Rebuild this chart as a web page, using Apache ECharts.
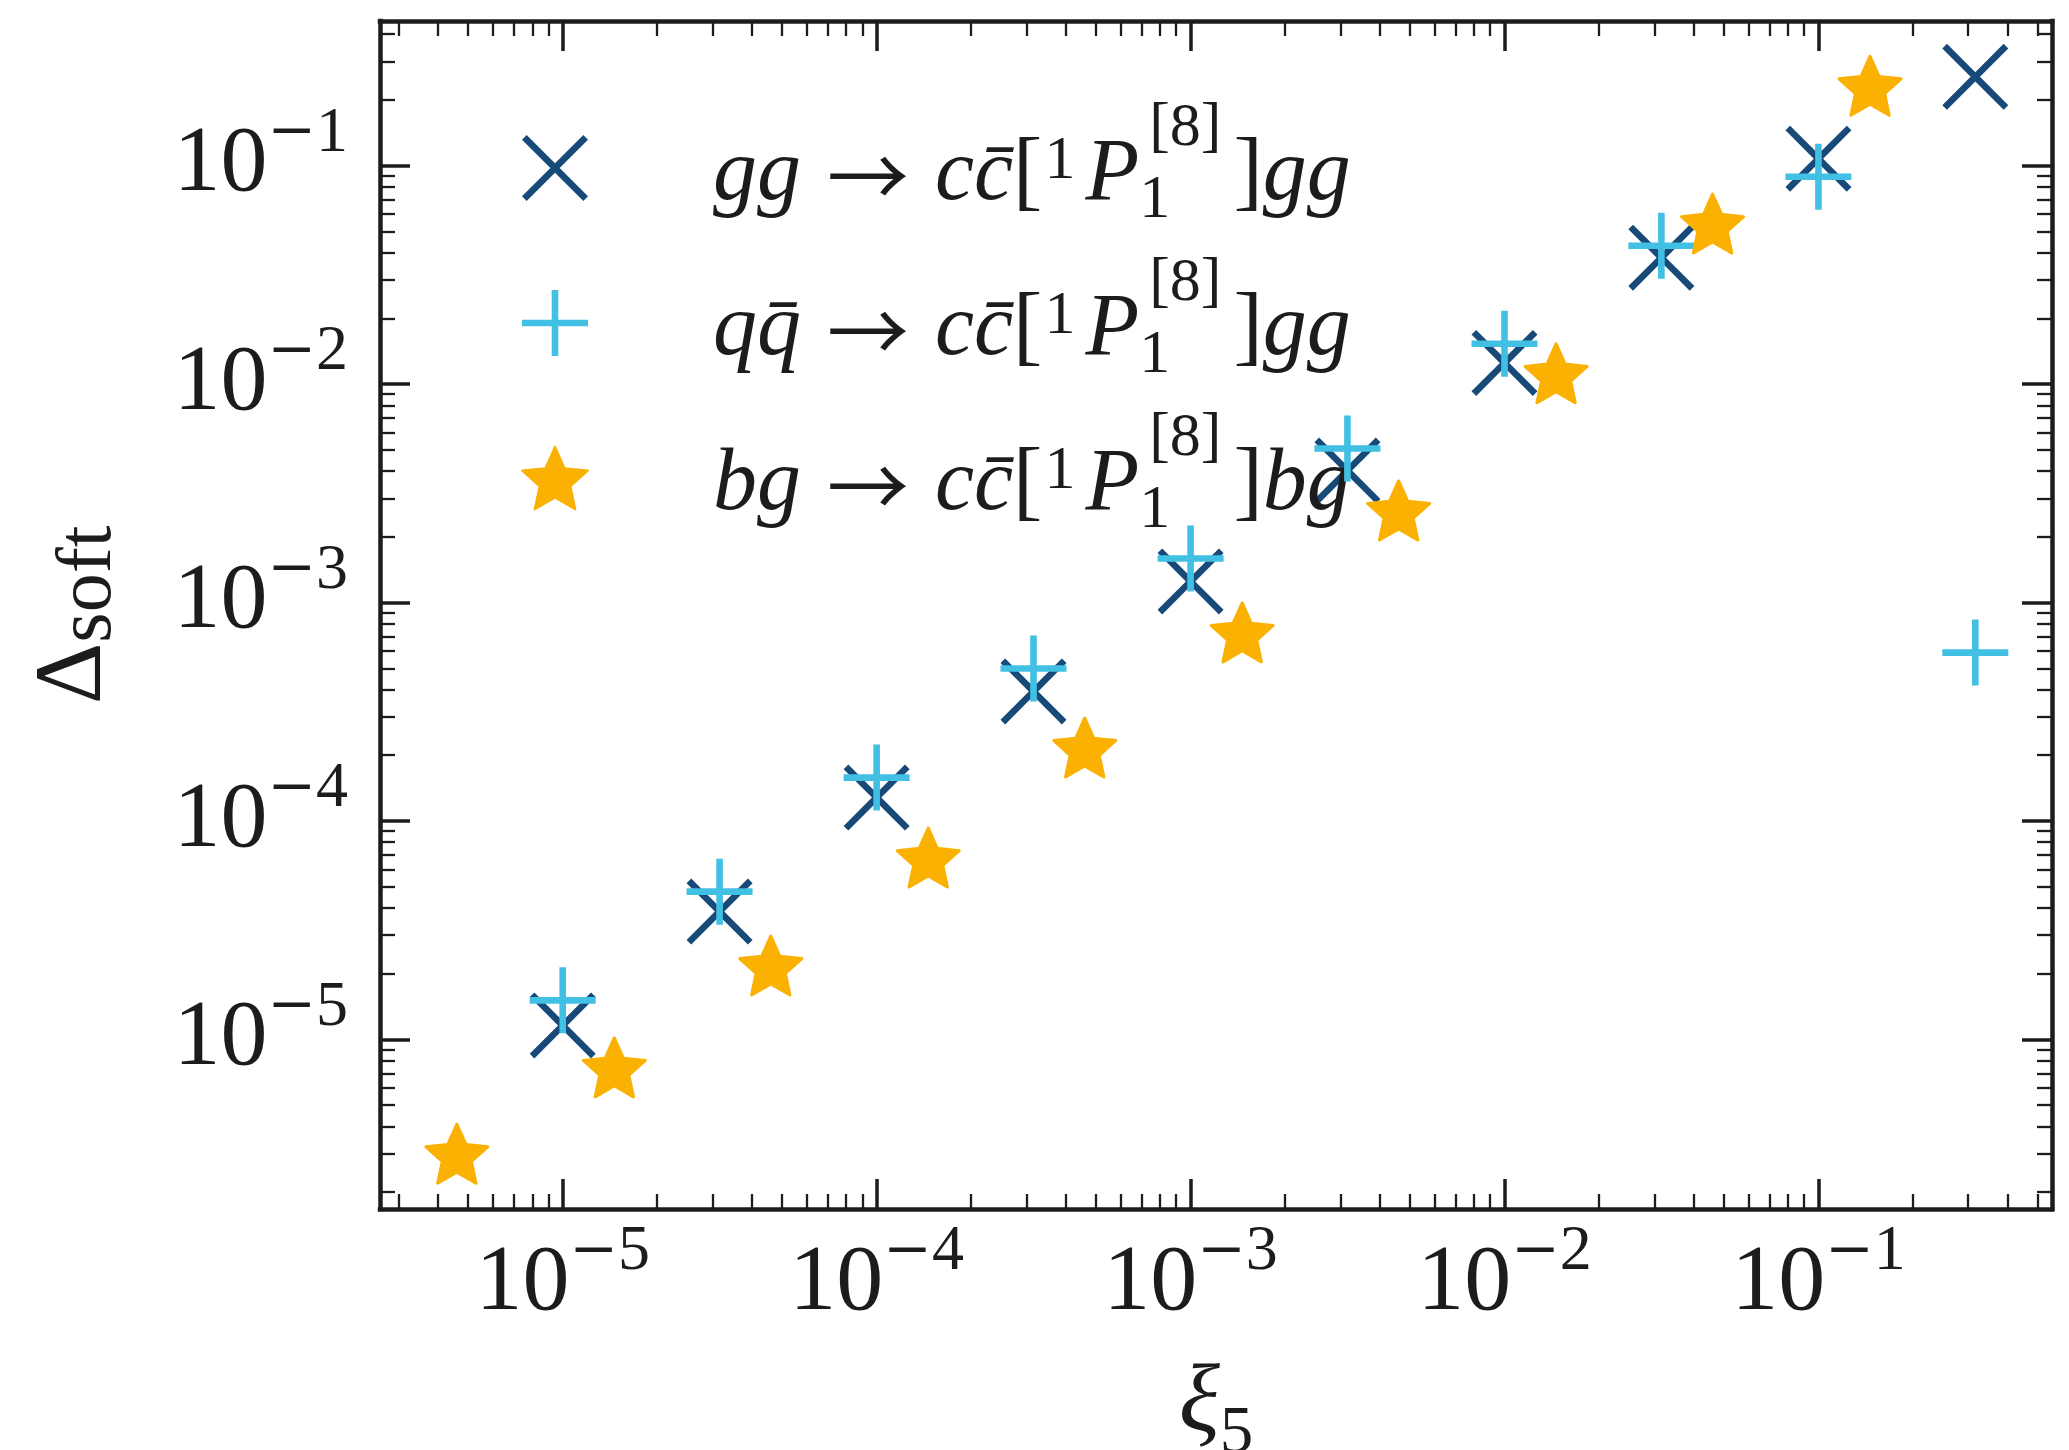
<!DOCTYPE html>
<html>
<head>
<meta charset="utf-8">
<script src="https://cdn.jsdelivr.net/npm/echarts@6/dist/echarts.min.js"></script>
<style>
html,body{margin:0;padding:0;background:#ffffff;}
#chart{width:2069px;height:1450px;}
</style>
</head>
<body>
<div id="chart"></div>
<script>
// ---------------- data ----------------
const seriesNames = ['gg', 'qq', 'bg'];

const xGG = [1e-5, 3.16e-5, 1e-4, 3.16e-4, 1e-3, 3.16e-3, 1e-2, 3.16e-2, 1e-1, 3.16e-1];
const yGG = [1.16e-5, 3.85e-5, 1.28e-4, 3.92e-4, 1.25e-3, 4.02e-3, 1.25e-2, 3.79e-2, 1.076e-1, 2.55e-1];

const xQQ = [1e-5, 3.16e-5, 1e-4, 3.16e-4, 1e-3, 3.16e-3, 1e-2, 3.16e-2, 1e-1, 3.16e-1];
const yQQ = [1.51e-5, 4.75e-5, 1.58e-4, 4.99e-4, 1.59e-3, 5.07e-3, 1.53e-2, 4.3e-2, 8.9e-2, 5.9e-4];

const xBG = [4.6e-6, 1.46e-5, 4.6e-5, 1.46e-4, 4.6e-4, 1.46e-3, 4.6e-3, 1.46e-2, 4.6e-2, 1.46e-1];
const yBG = [3.0e-6, 7.45e-6, 2.18e-5, 6.8e-5, 2.17e-4, 7.3e-4, 2.64e-3, 1.12e-2, 5.43e-2, 2.32e-1];

const xMajorTicks = [1e-5, 1e-4, 1e-3, 1e-2, 1e-1];
const xTickExponents = [-5, -4, -3, -2, -1];
const yMajorTicks = [1e-5, 1e-4, 1e-3, 1e-2, 1e-1];
const yTickExponents = [-5, -4, -3, -2, -1];

// ---------------- styling ----------------
const X_MIN = Math.pow(10, -5.582), X_MAX = Math.pow(10, -0.256);
const Y_MIN = Math.pow(10, -5.776), Y_MAX = Math.pow(10, -0.338);

const C_GG = '#174a78', C_QQ = '#42c0e3', C_BG = '#fbb102';
const INK = '#1c1c1c';

const SYM_X = 'path://M0,7.07L7.07,0L50,42.93L92.93,0L100,7.07L57.07,50L100,92.93L92.93,100L50,57.07L7.07,100L0,92.93L42.93,50Z';
const SYM_PLUS = 'path://M45,0L55,0L55,45L100,45L100,55L55,55L55,100L45,100L45,55L0,55L0,45L45,45Z';
const SYM_STAR = 'path://M50,0L63.81,30.99L97.55,34.55L72.35,57.26L79.39,90.45L50,73.5L20.61,90.45L27.65,57.26L2.45,34.55L36.19,30.99Z';

function minorTicks(lo, hi) {
  const out = [];
  for (let e = Math.floor(Math.log10(lo)); e <= Math.ceil(Math.log10(hi)); e++) {
    for (let m = 2; m <= 9; m++) {
      const v = m * Math.pow(10, e);
      if (v >= lo && v <= hi) out.push(v);
    }
  }
  return out;
}
function nearestIdx(arr, v) {
  let best = 0, bd = Infinity;
  arr.forEach((a, i) => { const d = Math.abs(Math.log10(a) - Math.log10(v)); if (d < bd) { bd = d; best = i; } });
  return best;
}

const tickRich = {
  b: { fontFamily: 'Liberation Serif', fontSize: 94, lineHeight: 140, color: INK },
  m: { fontFamily: 'DejaVu Serif', fontSize: 58, height: 77, lineHeight: 77, verticalAlign: 'top', color: INK },
  s: { fontFamily: 'Liberation Serif', fontSize: 64, height: 77, lineHeight: 77, verticalAlign: 'top', color: INK }
};
function tickLabel(ticks, exps) {
  return function (v) {
    const e = exps[nearestIdx(ticks, v)];
    return '{b|10}{m|' + (e < 0 ? '\u2212' : '') + '}{s|' + Math.abs(e) + '}';
  };
}

const MAJ_LEN = 30, MIN_LEN = 15, MAJ_W = 3.5, MIN_W = 2.3, SPINE_W = 4.5;

function axisBase(min, max, position) {
  return {
    type: 'log', logBase: 10, min: min, max: max, position: position, gridIndex: 0,
    splitLine: { show: false }, minorTick: { show: false }, minorSplitLine: { show: false },
    axisLine: { show: false, onZero: false },
    axisTick: { show: false },
    axisLabel: { show: false },
    axisPointer: { show: false },
    silent: true
  };
}
function majorAxis(min, max, position, ticks, withLine) {
  const a = axisBase(min, max, position);
  a.axisLine = { show: withLine, onZero: false, lineStyle: { color: INK, width: SPINE_W, cap: 'square' } };
  a.axisTick = { show: true, inside: true, length: MAJ_LEN, customValues: ticks, lineStyle: { color: INK, width: MAJ_W } };
  return a;
}
function minorAxis(min, max, position) {
  const a = axisBase(min, max, position);
  a.axisTick = { show: true, inside: true, length: MIN_LEN, customValues: minorTicks(min, max), lineStyle: { color: INK, width: MIN_W } };
  return a;
}

const xMain = majorAxis(X_MIN, X_MAX, 'bottom', xMajorTicks, true);
xMain.axisLabel = { show: true, customValues: xMajorTicks, formatter: tickLabel(xMajorTicks, xTickExponents), rich: tickRich, margin: 5, hideOverlap: false };
xMain.name = '{x|\u03BE}{f|5}';
xMain.nameLocation = 'middle';
xMain.nameGap = 131;
xMain.nameMoveOverlap = false;
xMain.nameTextStyle = { rich: {
  x: { fontFamily: 'Liberation Serif', fontStyle: 'italic', fontSize: 96, lineHeight: 130, color: INK },
  f: { fontFamily: 'Liberation Serif', fontSize: 67, height: 72, lineHeight: 72, verticalAlign: 'bottom', color: INK }
} };

const yMain = majorAxis(Y_MIN, Y_MAX, 'left', yMajorTicks, true);
yMain.axisLabel = { show: true, customValues: yMajorTicks, formatter: tickLabel(yMajorTicks, yTickExponents), rich: tickRich, margin: 32, hideOverlap: false };
yMain.name = '{d|\u0394}{s|soft}';
yMain.nameLocation = 'middle';
yMain.nameGap = 240;
yMain.nameMoveOverlap = false;
yMain.nameTextStyle = { rich: {
  d: { fontFamily: 'Liberation Serif', fontSize: 96, lineHeight: 130, color: INK },
  s: { fontFamily: 'Liberation Serif', fontSize: 78, height: 100, lineHeight: 100, verticalAlign: 'bottom', color: INK }
} };

// legend text (math rendered as rich text); base glyphs sit slightly below the icon centre
const LF = 88, LS = 62, LL = 150, LB = 134;
const legendRich = {
  sp: { width: 120, fontSize: LF, lineHeight: LL },
  i: { fontFamily: 'Liberation Serif', fontStyle: 'italic', fontSize: LF, height: LB, lineHeight: LL, verticalAlign: 'bottom', color: INK },
  r: { fontFamily: 'Liberation Serif', fontSize: LF, height: LB, lineHeight: LL, verticalAlign: 'bottom', color: INK },
  ar: { fontFamily: 'Noto Sans CJK JP', fontSize: 82, height: LB, lineHeight: LL, verticalAlign: 'bottom', padding: [0, 26, 0, 26], color: INK },
  pre: { fontFamily: 'Liberation Serif', fontSize: LS, height: 138, lineHeight: 138, verticalAlign: 'top', padding: [0, 10, 0, 2], color: INK },
  sub: { fontFamily: 'Liberation Serif', fontSize: LS, height: 84, lineHeight: 84, verticalAlign: 'bottom', width: 0, color: INK },
  sup: { fontFamily: 'Liberation Serif', fontSize: LS, height: 72, lineHeight: 72, verticalAlign: 'top', padding: [0, 12, 0, 10], color: INK }
};
const legendLabels = [
  '{sp|\u00a0}{i|gg}{ar|\u2192}{i|cc\u0304}{r|[}{pre|1}{i|P}{sub|1}{sup|[8]}{r|]}{i|gg}',
  '{sp|\u00a0}{i|qq\u0304}{ar|\u2192}{i|cc\u0304}{r|[}{pre|1}{i|P}{sub|1}{sup|[8]}{r|]}{i|gg}',
  '{sp|\u00a0}{i|bg}{ar|\u2192}{i|cc\u0304}{r|[}{pre|1}{i|P}{sub|1}{sup|[8]}{r|]}{i|bg}'
];

function pairs(xs, ys) { return xs.map((x, i) => [x, ys[i]]); }

const option = {
  backgroundColor: '#ffffff',
  animation: false,
  grid: { left: 380, right: 17, top: 21, bottom: 241, containLabel: false, outerBoundsMode: 'none' },
  xAxis: [
    xMain,
    minorAxis(X_MIN, X_MAX, 'bottom'),
    majorAxis(X_MIN, X_MAX, 'top', xMajorTicks, true),
    minorAxis(X_MIN, X_MAX, 'top')
  ],
  yAxis: [
    yMain,
    minorAxis(Y_MIN, Y_MAX, 'left'),
    majorAxis(Y_MIN, Y_MAX, 'right', yMajorTicks, true),
    minorAxis(Y_MIN, Y_MAX, 'right')
  ],
  legend: {
    show: true, orient: 'vertical', left: 521, top: 93, padding: 0,
    itemWidth: 66, itemHeight: 66, itemGap: 5, selectedMode: false,
    data: seriesNames,
    formatter: function (name) { return legendLabels[seriesNames.indexOf(name)]; },
    textStyle: { color: INK, rich: legendRich }
  },
  series: [
    { type: 'scatter', name: seriesNames[0], xAxisIndex: 0, yAxisIndex: 0, data: pairs(xGG, yGG),
      symbol: SYM_X, symbolSize: 66, itemStyle: { color: C_GG, opacity: 1 }, z: 3, silent: true, emphasis: { disabled: true } },
    { type: 'scatter', name: seriesNames[1], xAxisIndex: 0, yAxisIndex: 0, data: pairs(xQQ, yQQ),
      symbol: SYM_PLUS, symbolSize: 66, itemStyle: { color: C_QQ, opacity: 1 }, z: 4, silent: true, emphasis: { disabled: true } },
    { type: 'scatter', name: seriesNames[2], xAxisIndex: 0, yAxisIndex: 0, data: pairs(xBG, yBG),
      symbol: SYM_STAR, symbolSize: [62, 59],
      itemStyle: { color: C_BG, opacity: 1, borderColor: C_BG, borderWidth: 3, borderJoin: 'round' },
      z: 5, silent: true, emphasis: { disabled: true } }
  ]
};

const chart = echarts.init(document.getElementById('chart'), null, { renderer: 'canvas', width: 2069, height: 1450 });
chart.setOption(option);
</script>
</body>
</html>
